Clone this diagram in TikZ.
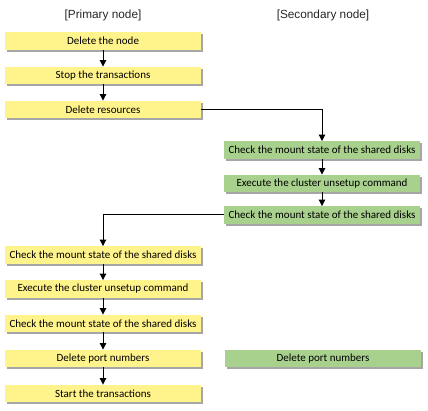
\documentclass[tikz,border=0pt]{standalone}
\usepackage{fontspec}
\setmainfont{Carlito}
\newfontfamily\headfont{Liberation Sans}
\usetikzlibrary{arrows.meta,shadows}
\definecolor{ybox}{HTML}{FFF38C}
\definecolor{gbox}{HTML}{A9D18E}
\begin{document}
\begin{tikzpicture}[x=1pt,y=-1pt,
  stepbox/.style={minimum width=196pt,minimum height=17.5pt,inner sep=0pt,font=\fontsize{11}{13}\selectfont,
    drop shadow={shadow xshift=2pt,shadow yshift=-2pt,fill=black!35,opacity=1}},
  pbox/.style={stepbox,fill=ybox},
  sbox/.style={stepbox,fill=gbox},
  head/.style={font=\headfont\fontsize{11.8}{13}\selectfont,text=black!85},
  conn/.style={line width=1pt,-{Triangle[width=6.5pt,length=6.5pt]}}]
\useasboundingbox (0,0) rectangle (428,411);
\node[head] (hp) at (103,15) {[Primary node]};
\node[head] (hs) at (323,15) {[Secondary node]};
\node[pbox] (p1) at (103,41) {Delete the node};
\node[pbox] (p2) at (103,75.5) {Stop the transactions};
\node[pbox] (p3) at (103,109.5) {Delete resources};
\node[sbox] (s1) at (322,150) {Check the mount state of the shared disks};
\node[sbox] (s2) at (322,183.5) {Execute the cluster unsetup command};
\node[sbox] (s3) at (322,215) {Check the mount state of the shared disks};
\node[pbox] (p4) at (103,255) {Check the mount state of the shared disks};
\node[pbox] (p5) at (103,289) {Execute the cluster unsetup command};
\node[pbox] (p6) at (103,323.5) {Check the mount state of the shared disks};
\node[pbox] (p7) at (103,358.5) {Delete port numbers};
\node[pbox] (p8) at (103,393.5) {Start the transactions};
\node[sbox] (s4) at (323,358.5) {Delete port numbers};
\draw[conn] (p1) -- (p2);
\draw[conn] (p2) -- (p3);
\draw[conn] (p3.east) -| (s1.north);
\draw[conn] (s1) -- (s2);
\draw[conn] (s2) -- (s3);
\draw[conn] (s3.west) -| (p4.north);
\draw[conn] (p4) -- (p5);
\draw[conn] (p5) -- (p6);
\draw[conn] (p6) -- (p7);
\draw[conn] (p7) -- (p8);
\end{tikzpicture}
\end{document}
